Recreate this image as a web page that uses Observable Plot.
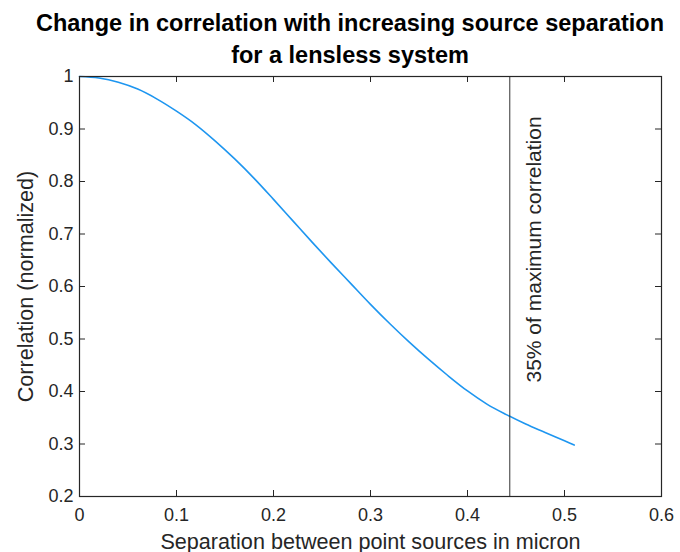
<!DOCTYPE html>
<html>
<head>
<meta charset="utf-8">
<script src="https://cdn.jsdelivr.net/npm/d3@7"></script>
<script src="https://cdn.jsdelivr.net/npm/@observablehq/plot@0.6"></script>
<style>
  html, body { margin: 0; padding: 0; background: #fff; }
  body { font-family: "Liberation Sans", Arial, sans-serif; width: 680px; }
  #title {
    width: 680px; height: 66px; box-sizing: border-box;
    padding-top: 7px; padding-left: 20px;
    text-align: center; font-weight: bold; font-size: 23.5px; line-height: 32px; color: #000;
  }
</style>
</head>
<body>
<div id="title">Change in correlation with increasing source separation<br>for a lensless system</div>
<div id="chart"></div>
<script>
// Data
const separation  = [0, 0.02, 0.04, 0.06, 0.08, 0.10, 0.12, 0.14, 0.16, 0.18, 0.20, 0.22, 0.24, 0.26, 0.28, 0.30, 0.32, 0.34, 0.36, 0.38, 0.40, 0.42, 0.44, 0.46, 0.48, 0.50, 0.51];
const correlation = [1.000, 0.997, 0.989, 0.976, 0.957, 0.934, 0.908, 0.877, 0.843, 0.806, 0.766, 0.725, 0.684, 0.644, 0.605, 0.566, 0.529, 0.494, 0.461, 0.430, 0.401, 0.376, 0.356, 0.338, 0.322, 0.306, 0.298];
const xTicks = [0, 0.1, 0.2, 0.3, 0.4, 0.5, 0.6];
const yTicks = [0.2, 0.3, 0.4, 0.5, 0.6, 0.7, 0.8, 0.9, 1];
const thresholdX = [0.4436];
const thresholdLabel = ["35% of maximum correlation"];
const xLabel = "Separation between point sources in micron";
const yLabel = "Correlation (normalized)";

const data = separation.map((s, i) => ({s, c: correlation[i]}));

const W = 680, H = 486;
const mt = 10, mb = 56, ml = 79, mr = 19;
const innerW = W - ml - mr, innerH = H - mt - mb;
const tick = 6;
const ink = "#262626";

const chart = Plot.plot({
  width: W, height: H,
  marginTop: mt, marginBottom: mb, marginLeft: ml, marginRight: mr,
  style: {fontFamily: "'Liberation Sans', Arial, sans-serif", fontSize: "18px", background: "#fff", color: ink, overflow: "visible"},
  x: {domain: [0, 0.6]},
  y: {domain: [0.2, 1]},
  marks: [
    // inward ticks on all four sides
    Plot.ruleX(xTicks, {x: d => d, stroke: ink, insetTop: innerH - tick}),
    Plot.ruleX(xTicks, {x: d => d, stroke: ink, insetBottom: innerH - tick}),
    Plot.ruleY(yTicks, {y: d => d, stroke: ink, insetRight: innerW - tick}),
    Plot.ruleY(yTicks, {y: d => d, stroke: ink, insetLeft: innerW - tick}),
    Plot.axisX({ticks: xTicks, tickSize: 0, tickPadding: 12, tickFormat: d => String(d), fontSize: 18, label: null}),
    Plot.axisY({ticks: yTicks, tickSize: 0, tickPadding: 6, tickFormat: d => String(d), fontSize: 18, label: null}),
    Plot.axisX({ticks: [], tickSize: 0, label: xLabel, labelAnchor: "center", labelArrow: "none", labelOffset: 52, fontSize: 21.6}),
    Plot.axisY({ticks: [], tickSize: 0, label: yLabel, labelAnchor: "center", labelArrow: "none", labelOffset: 62, fontSize: 21.6}),
    Plot.line(data, {x: "s", y: "c", stroke: "#1E96F0", strokeWidth: 1.6, curve: "monotone-x"}),
    Plot.ruleX(thresholdX, {x: d => d, stroke: "#333", strokeWidth: 1}),
    Plot.text(thresholdLabel, {x: thresholdX, text: d => d, frameAnchor: "bottom", rotate: -90,
      textAnchor: "start", lineAnchor: "middle", dx: 24, dy: -114, fontSize: 21, fill: ink}),
    Plot.frame({stroke: ink, strokeWidth: 1.2})
  ]
});
document.getElementById("chart").appendChild(chart);
</script>
</body>
</html>
